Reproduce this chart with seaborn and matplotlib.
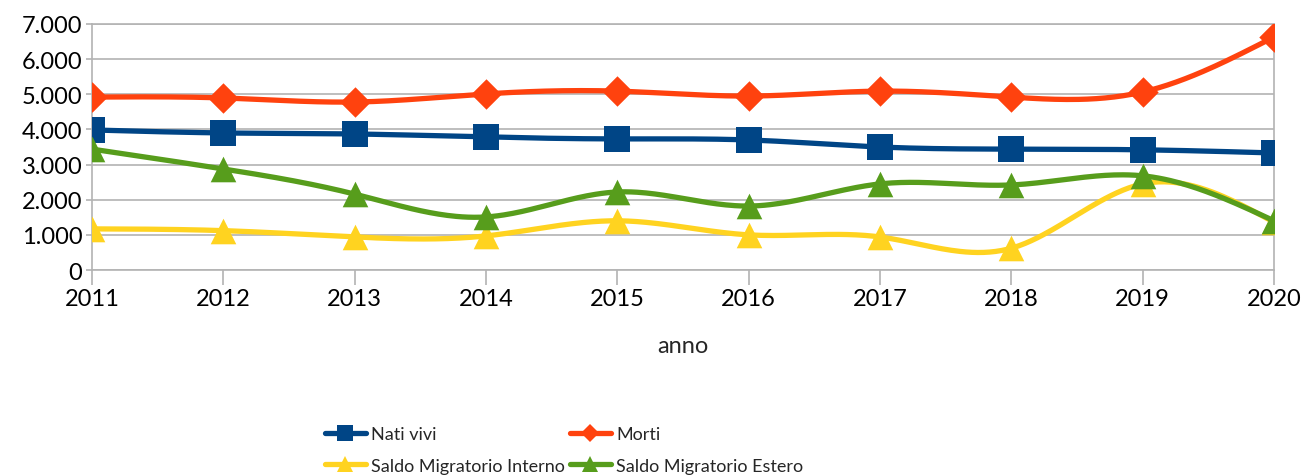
import numpy as np
import pandas as pd
import matplotlib
matplotlib.use('Agg')
import matplotlib.pyplot as plt
import matplotlib.ticker as mticker
from matplotlib.lines import Line2D
import seaborn as sns

# data
anni = [2011, 2012, 2013, 2014, 2015, 2016, 2017, 2018, 2019, 2020]
nati_vivi = [3985, 3900, 3870, 3785, 3730, 3700, 3500, 3440, 3420, 3330]
morti = [4920, 4895, 4780, 5010, 5090, 4950, 5090, 4920, 5065, 6630]
saldo_interno = [1170, 1120, 940, 970, 1400, 1000, 940, 620, 2450, 1360]
saldo_estero = [3440, 2875, 2160, 1510, 2220, 1820, 2450, 2420, 2680, 1400]

serie = [
    ('Nati vivi', nati_vivi, '#004586', 's'),
    ('Morti', morti, '#ff420e', 'D'),
    ('Saldo Migratorio Interno', saldo_interno, '#ffd320', '^'),
    ('Saldo Migratorio Estero', saldo_estero, '#579d1c', '^'),
]


def natural_spline(x, y, n=400):
    # natural cubic spline through the points, only used to draw the smooth line
    x = np.asarray(x, float)
    y = np.asarray(y, float)
    k = len(x)
    h = np.diff(x)
    A = np.zeros((k, k))
    b = np.zeros(k)
    A[0, 0] = A[-1, -1] = 1
    for i in range(1, k - 1):
        A[i, i - 1] = h[i - 1]
        A[i, i] = 2 * (h[i - 1] + h[i])
        A[i, i + 1] = h[i]
        b[i] = 6 * ((y[i + 1] - y[i]) / h[i] - (y[i] - y[i - 1]) / h[i - 1])
    M = np.linalg.solve(A, b)
    xs = np.linspace(x[0], x[-1], n)
    idx = np.clip(np.searchsorted(x, xs) - 1, 0, k - 2)
    x0, x1 = x[idx], x[idx + 1]
    hh = x1 - x0
    ys = (M[idx] * (x1 - xs) ** 3 / (6 * hh) + M[idx + 1] * (xs - x0) ** 3 / (6 * hh)
          + (y[idx] / hh - M[idx] * hh / 6) * (x1 - xs)
          + (y[idx + 1] / hh - M[idx + 1] * hh / 6) * (xs - x0))
    return xs, ys


sns.set_theme(style='white')
plt.rcParams['font.family'] = ['Lato', 'DejaVu Sans']

fig = plt.figure(figsize=(13.05, 4.77), dpi=100)
ax = fig.add_axes([92 / 1305, 1 - 271 / 477, (1274 - 92) / 1305, (271 - 25) / 477])

handles = []
for nome, valori, colore, marker in serie:
    xs, ys = natural_spline(anni, valori)
    sns.lineplot(x=xs, y=ys, ax=ax, color=colore, linewidth=3.8, zorder=3)
    df = pd.DataFrame({'anno': anni, 'valore': valori})
    msize = 330 if marker == 's' else (240 if marker == 'D' else 340)
    sns.scatterplot(data=df, x='anno', y='valore', ax=ax, color=colore, marker=marker,
                    s=msize, linewidth=0, zorder=4, legend=False)
    handles.append(Line2D([0], [0], color=colore, linewidth=3.8, marker=marker,
                          markersize=11 if marker != 'D' else 9, markeredgewidth=0, label=nome))

ax.set_xlim(2011, 2020)
ax.set_ylim(0, 7000)
ax.set_xticks(anni)
ax.set_yticks(range(0, 7001, 1000))
ax.yaxis.set_major_formatter(mticker.FuncFormatter(lambda v, p: f'{int(v):,}'.replace(',', '.')))
ax.grid(axis='y', color='#b3b3b3', linewidth=1.2)
ax.grid(axis='x', visible=False)
ax.set_axisbelow(True)
for s in ['left', 'right', 'bottom', 'top']:
    ax.spines[s].set_color('#b3b3b3')
    ax.spines[s].set_linewidth(1.2)
ax.tick_params(axis='x', length=11, width=1.2, color='#b3b3b3', labelsize=17, pad=2, direction='out', bottom=True)
ax.tick_params(axis='y', length=4, width=1.2, color='#b3b3b3', labelsize=17, pad=3, direction='out', left=True)
ax.set_xlabel('anno', fontsize=17, labelpad=19)
ax.set_ylabel('')
for lab in ax.get_xticklabels() + ax.get_yticklabels():
    lab.set_color('black')

# two legend columns placed separately, reading row by row like the reference
opts = dict(loc='center left', frameon=False, fontsize=13, handlelength=2.25,
            handletextpad=0.3, labelspacing=0.85, borderaxespad=0, borderpad=0)
fig.legend(handles=[handles[0], handles[2]], bbox_to_anchor=(325 / 1305, 1 - 451 / 477), **opts)
fig.legend(handles=[handles[1], handles[3]], bbox_to_anchor=(570 / 1305, 1 - 451 / 477), **opts)

fig.savefig('out.png', dpi=100)
